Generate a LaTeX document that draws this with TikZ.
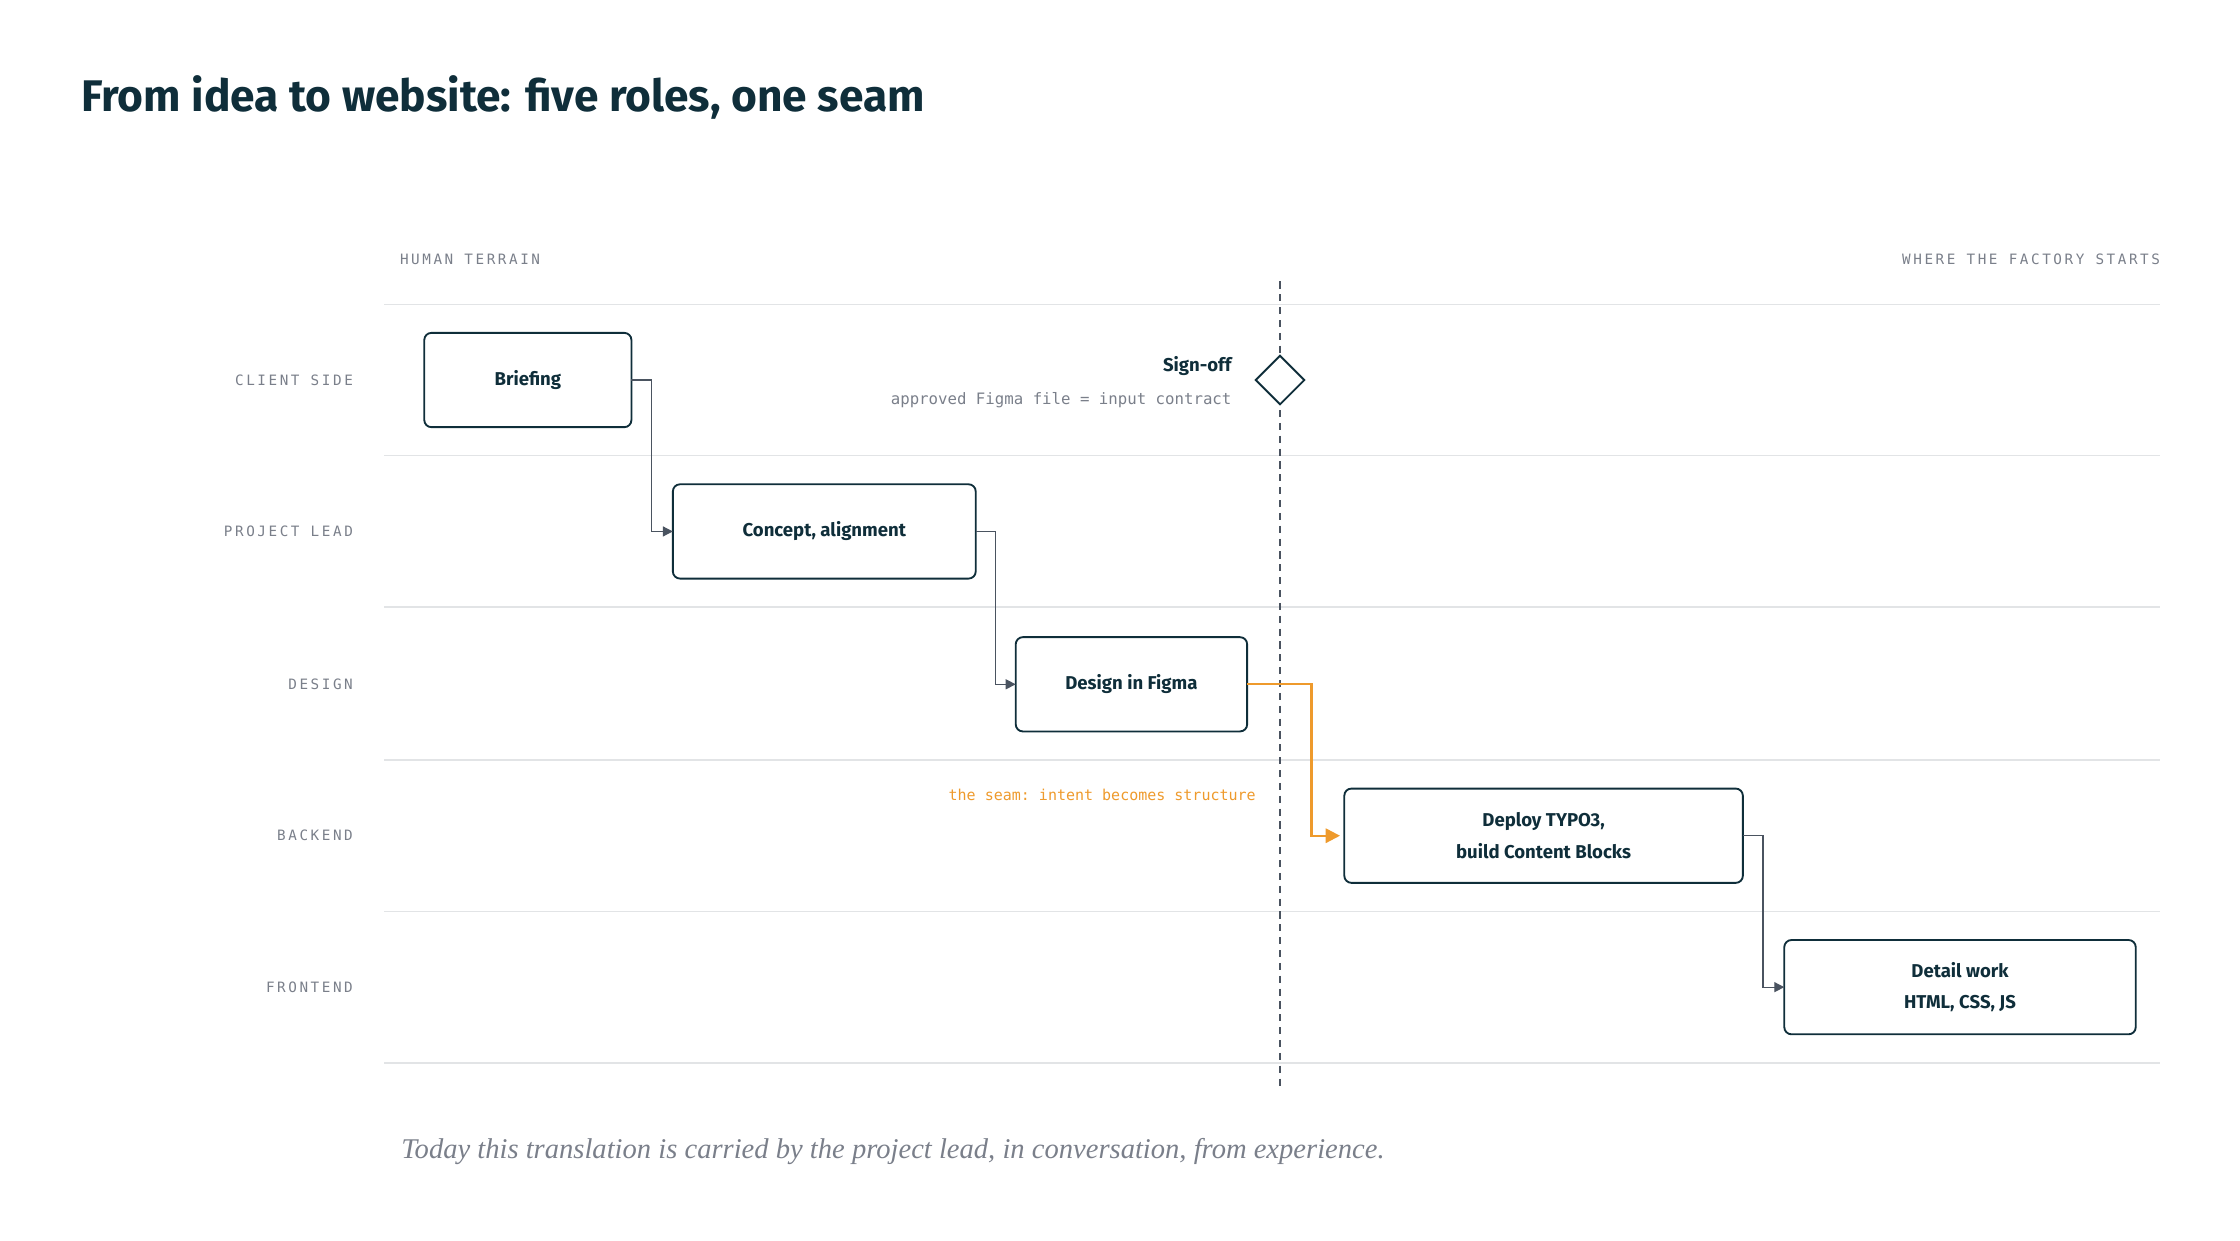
\documentclass[tikz,border=0pt]{standalone}
\usepackage{fontspec}
\setmainfont{Fira Sans}
\setmonofont{DejaVu Sans Mono}
\newfontfamily\captionserif{Liberation Serif}
\usetikzlibrary{arrows.meta,positioning,shapes.geometric}
\definecolor{ink}{HTML}{0F2E3A}
\definecolor{rule}{HTML}{E2E4E6}
\definecolor{muted}{HTML}{7A7F8A}
\definecolor{seam}{HTML}{EE9A2C}
\definecolor{wire}{HTML}{4A5360}
\newcommand{\capslabel}[1]{{\ttfamily\addfontfeature{LetterSpace=18}\fontsize{10}{12}\selectfont #1}}
\begin{document}
\begin{tikzpicture}[x=1pt,y=-1pt,inner sep=0pt,outer sep=0pt,
stage/.style={draw=ink,rounded corners=5pt,line width=1.3pt,align=center,
  font=\fontsize{13}{22}\selectfont\bfseries,text=ink},
lane/.style={text=muted,anchor=east},
flow/.style={draw=wire,line width=0.9pt,-{Triangle[length=7pt,width=7pt]}},
seamflow/.style={draw=seam,line width=1.6pt,-{Triangle[length=10pt,width=10pt]}}]
\useasboundingbox (0,0) rectangle (1568,868);

\node[anchor=base west,text=ink,font=\fontsize{31}{36}\selectfont\bfseries] (title) at (57,78) {From idea to website: five roles, one seam};
\node[anchor=base west,text=muted] (left) at (280,185) {\capslabel{HUMAN TERRAIN}};
\node[anchor=base east,text=muted] (right) at (1512,185) {\capslabel{WHERE THE FACTORY STARTS}};

% lane rules
\foreach \y in {213,319,425,532,638,744}
  \draw[rule,line width=1pt] (269,\y) -- (1512,\y);
\node[lane] (l1) at (247,266) {\capslabel{CLIENT SIDE}};
\node[lane] (l2) at (247,372) {\capslabel{PROJECT LEAD}};
\node[lane] (l3) at (247,479) {\capslabel{DESIGN}};
\node[lane] (l4) at (247,585) {\capslabel{BACKEND}};
\node[lane] (l5) at (247,691) {\capslabel{FRONTEND}};

% seam
\coordinate (seamtop) at (896,197);
\coordinate (seambot) at (896,762);
\draw[wire,line width=1pt,dash pattern=on 5pt off 4pt] (seamtop) -- (seambot);
\node[draw=ink,fill=white,line width=1.3pt,diamond,minimum width=34pt,minimum height=34pt] (sign) at (896,266) {};
\node[anchor=base east,text=ink,font=\fontsize{13}{15}\selectfont\bfseries] (signlbl) at (862,260) {Sign-off};
\node[anchor=base east,text=muted,font=\ttfamily\fontsize{11}{13}\selectfont] (contract) at (862,283) {approved Figma file = input contract};
\node[anchor=base east,text=seam,font=\ttfamily\fontsize{10.5}{13}\selectfont] (seamlbl) at (879,560) {the seam: intent becomes structure};

% stages
\node[stage,minimum width=145pt,minimum height=66pt] (brief) at (369.5,266) {Briefing};
\node[stage,minimum width=212pt,minimum height=66pt] (concept) at (577,372) {Concept, alignment};
\node[stage,minimum width=162pt,minimum height=66pt] (design) at (792,479) {Design in Figma};
\node[stage,minimum width=279pt,minimum height=66pt] (deploy) at (1080.5,585) {Deploy TYPO3,\\build Content Blocks};
\node[stage,minimum width=246pt,minimum height=66pt] (detail) at (1372,691) {Detail work\\HTML, CSS, JS};

\draw[flow] (brief.east) -- ++(14,0) |- (concept.west);
\draw[flow] (concept.east) -- ++(14,0) |- (design.west);
\draw[seamflow] (design.east) -- ++(45,0) |- ([xshift=-3pt]deploy.west);
\draw[flow] (deploy.east) -- ++(14,0) |- (detail.west);

\node[anchor=base west,text=muted,font=\captionserif\itshape\fontsize{20}{24}\selectfont] (caption) at (281,811) {Today this translation is carried by the project lead, in conversation, from experience.};
\end{tikzpicture}
\end{document}
